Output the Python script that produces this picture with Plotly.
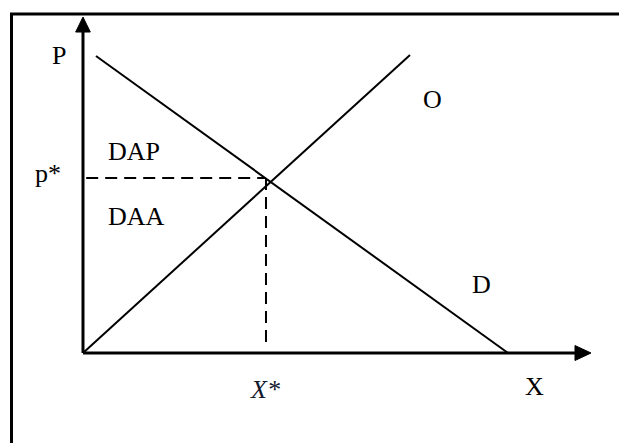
import plotly.graph_objects as go

# ---- data (economic units: quantity X, price P) ----
demand_x = [0.284, 9.29]
demand_p = [6.789, 0.0]
supply_x = [0.0, 7.148]
supply_p = [0.0, 6.811]
x_star = 4.0
p_star = 4.0

# axes extent
x_axis_end = 10.754
x_arrow_tip = 11.104
y_axis_end = 7.337
y_arrow_tip = 7.680

# labels
label_text = ["P", "p*", "DAP", "DAA", "O", "D", "<i>X*</i>", "X"]
label_x = [-0.514, -0.765, 1.115, 1.169, 7.650, 8.721, 3.978, 9.858]
label_p = [6.811, 4.10, 4.617, 3.131, 5.806, 1.566, -0.823, -0.766]

W, H = 619, 443
X_RANGE = [-1.814, 11.716]
P_RANGE = [-2.057, 8.069]

fig = go.Figure()

line_style = dict(color="black", width=2)

# demand and supply
fig.add_trace(go.Scatter(x=demand_x, y=demand_p, mode="lines", line=line_style))
fig.add_trace(go.Scatter(x=supply_x, y=supply_p, mode="lines", line=line_style))

# dashed equilibrium guides
dash_style = dict(color="black", width=2, dash="12px,7px")
fig.add_trace(go.Scatter(x=[0.07, x_star], y=[p_star, p_star], mode="lines", line=dash_style))
fig.add_trace(go.Scatter(x=[x_star, x_star], y=[p_star, 0.14], mode="lines", line=dash_style))

# axes
axis_style = dict(color="black", width=3)
fig.add_trace(go.Scatter(x=[0, 0], y=[0, y_axis_end], mode="lines", line=axis_style))
fig.add_trace(go.Scatter(x=[0, x_axis_end], y=[0, 0], mode="lines", line=axis_style))

# arrowheads
fig.add_trace(go.Scatter(x=[-0.16, 0.16, 0, -0.16], y=[y_axis_end, y_axis_end, y_arrow_tip, y_axis_end],
                         mode="lines", fill="toself", fillcolor="black", line=dict(color="black", width=1)))
fig.add_trace(go.Scatter(x=[x_axis_end, x_axis_end, x_arrow_tip, x_axis_end], y=[-0.171, 0.171, 0, -0.171],
                         mode="lines", fill="toself", fillcolor="black", line=dict(color="black", width=1)))

for t, x, y in zip(label_text, label_x, label_p):
    fig.add_annotation(x=x, y=y, text=t, showarrow=False,
                       font=dict(family="Liberation Serif, Times New Roman, serif", size=26,
                                 color="#141a2e" if "X*" in t else "black"),
                       xanchor="center", yanchor="middle")

# frame border (top and left visible)
fig.add_shape(type="rect", xref="paper", yref="paper",
              x0=11.5 / W, x1=1.05, y0=-0.05, y1=1 - 14 / H,
              line=dict(color="black", width=3))

fig.update_xaxes(range=X_RANGE, visible=False, fixedrange=True)
fig.update_yaxes(range=P_RANGE, visible=False, fixedrange=True)
fig.update_layout(width=W, height=H, autosize=False,
                  margin=dict(l=0, r=0, t=0, b=0),
                  paper_bgcolor="white", plot_bgcolor="white",
                  showlegend=False, hovermode=False)

fig.write_html("out.html", config={"displayModeBar": False},
               post_script="document.body.style.margin='0';document.body.style.padding='0';")
